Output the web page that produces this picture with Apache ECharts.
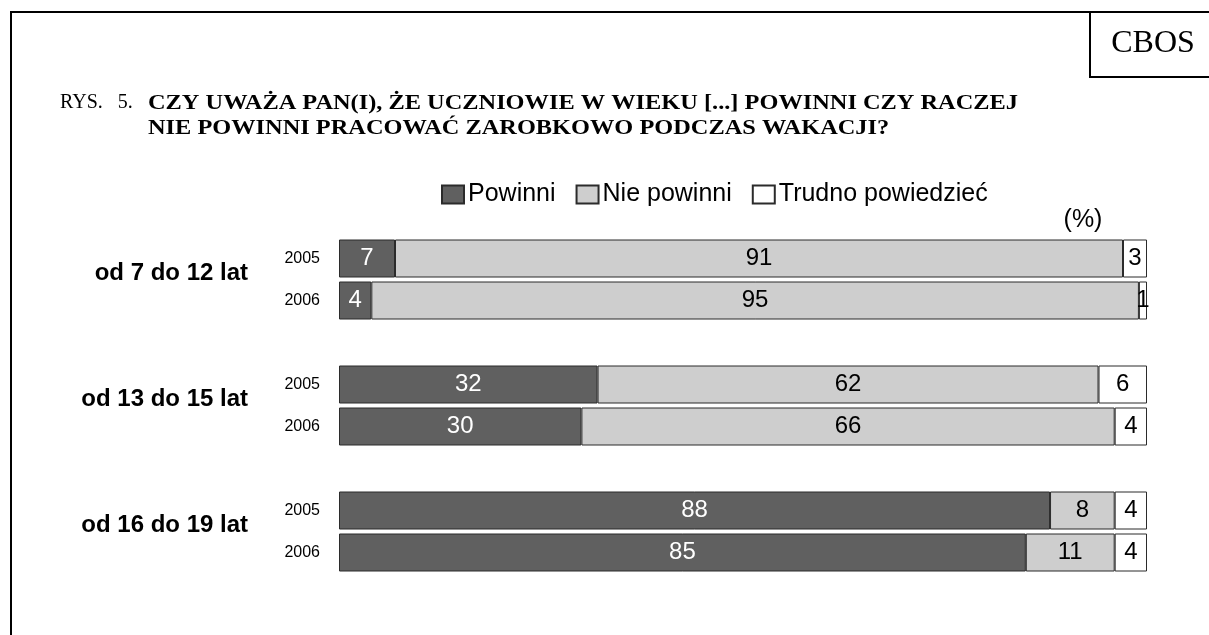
<!DOCTYPE html>
<html>
<head>
<meta charset="utf-8">
<script src="https://cdn.jsdelivr.net/npm/echarts@6/dist/echarts.min.js"></script>
<style>
  html, body { margin: 0; padding: 0; background: #fff; }
  #chart { width: 1209px; height: 635px; }
</style>
</head>
<body>
<div id="chart"></div>
<script>
const groups = ["od 7 do 12 lat", "od 13 do 15 lat", "od 16 do 19 lat"];
const years = ["2005", "2006"];
const seriesNames = ["Powinni", "Nie powinni", "Trudno powiedzieć"];
// one value per row: group 1 (2005, 2006), group 2 (2005, 2006), group 3 (2005, 2006)
const powinni = [7, 4, 32, 30, 88, 85];
const niePowinni = [91, 95, 62, 66, 8, 11];
const trudno = [3, 1, 6, 4, 4, 4];
const titleLines = [
  "CZY UWAŻA PAN(I), ŻE UCZNIOWIE W WIEKU [...] POWINNI CZY RACZEJ",
  "NIE POWINNI PRACOWAĆ ZAROBKOWO PODCZAS WAKACJI?"
];

const serif = '"Liberation Serif", "Times New Roman", serif';
const sans = 'Arial, "Liberation Sans", sans-serif';
const colors = { dark: "#606060", light: "#cecece", blank: "#ffffff", edge: "#2b2b2b" };
const titleSize = 22;
const titleWidth = 870; // width of the first heading line in the report

const chart = echarts.init(document.getElementById("chart"));

// rows of the chart, with an empty row between age groups
const rows = [];
groups.forEach((g, gi) => {
  years.forEach((y, yi) => rows.push({ key: gi + "-" + y, year: y, idx: gi * years.length + yi }));
  if (gi < groups.length - 1) {
    rows.push({ key: "gap" + gi, year: "", idx: -1 });
  }
});

// bars are drawn as shares of the row total, labels keep the printed value
function shares(values) {
  return rows.map((r) => {
    if (r.idx < 0) {
      return "-";
    }
    const total = powinni[r.idx] + niePowinni[r.idx] + trudno[r.idx];
    return { value: values[r.idx] / total * 100, raw: values[r.idx] };
  });
}

function barSeries(name, values, color, textColor) {
  return {
    name,
    type: "bar",
    stack: "all",
    data: shares(values),
    barWidth: 38,
    itemStyle: { color, borderColor: colors.edge, borderWidth: 1 },
    label: {
      show: true,
      position: "inside",
      color: textColor,
      fontFamily: sans,
      fontSize: 24,
      formatter: (p) => (p.data && p.data.raw !== undefined ? String(p.data.raw) : "")
    },
    emphasis: { disabled: true }
  };
}

// the heading font of the report is wider than Liberation Serif Bold
function headingStretch() {
  const ctx = document.createElement("canvas").getContext("2d");
  ctx.font = "bold " + titleSize + "px " + serif;
  return titleWidth / ctx.measureText(titleLines[0]).width;
}

chart.setOption({
  animation: false,
  textStyle: { fontFamily: sans, color: "#000" },
  legend: {
    data: seriesNames,
    left: 441,
    top: 182,
    padding: 0,
    itemWidth: 22,
    itemHeight: 18,
    itemGap: 20,
    icon: "rect",
    selectedMode: false,
    textStyle: { fontFamily: sans, fontSize: 25, color: "#000", padding: [0, 0, 0, -1] }
  },
  grid: { left: 339, right: 62, top: 237.5, bottom: 61.5, outerBoundsMode: "none" },
  xAxis: { type: "value", min: 0, max: 100, show: false },
  yAxis: {
    type: "category",
    inverse: true,
    data: rows.map((r) => r.key),
    axisLine: { show: false },
    axisTick: { show: false },
    splitLine: { show: false },
    axisLabel: {
      margin: 19,
      fontFamily: sans,
      fontSize: 16,
      color: "#000",
      formatter: (v) => {
        const r = rows.find((x) => x.key === v);
        return r ? r.year : "";
      }
    }
  },
  series: [
    barSeries(seriesNames[0], powinni, colors.dark, "#fff"),
    barSeries(seriesNames[1], niePowinni, colors.light, "#000"),
    barSeries(seriesNames[2], trudno, colors.blank, "#000")
  ]
});

// age group labels sit beside their pair of bars
const groupLabels = groups.map((g, gi) => {
  const first = rows.findIndex((r) => r.key === gi + "-" + years[0]);
  const last = rows.findIndex((r) => r.key === gi + "-" + years[years.length - 1]);
  const y1 = chart.convertToPixel({ yAxisIndex: 0 }, first);
  const y2 = chart.convertToPixel({ yAxisIndex: 0 }, last);
  return {
    type: "text",
    x: 248,
    y: (y1 + y2) / 2 - 6,
    style: {
      text: g,
      fontFamily: sans,
      fontWeight: "bold",
      fontSize: 24,
      fill: "#000",
      align: "right",
      verticalAlign: "middle"
    }
  };
});

const stretch = headingStretch();

chart.setOption({
  graphic: [
    {
      type: "rect",
      shape: { x: 11, y: 12, width: 1300, height: 700 },
      style: { fill: null, stroke: "#000", lineWidth: 2 }
    },
    {
      type: "rect",
      shape: { x: 1090, y: 12, width: 200, height: 65 },
      style: { fill: "#fff", stroke: "#000", lineWidth: 2 }
    },
    {
      type: "text",
      x: 1153,
      y: 44,
      style: { text: "CBOS", fontFamily: serif, fontSize: 32, fill: "#000", align: "center", verticalAlign: "middle" }
    },
    {
      type: "text",
      x: 60,
      y: 103,
      style: { text: "RYS.   5.", fontFamily: serif, fontSize: 20, fill: "#000", verticalAlign: "middle" }
    },
    {
      type: "text",
      x: 148,
      y: 103,
      scaleX: stretch,
      style: {
        text: titleLines[0],
        fontFamily: serif,
        fontWeight: "bold",
        fontSize: titleSize,
        fill: "#000",
        verticalAlign: "middle"
      }
    },
    {
      type: "text",
      x: 148,
      y: 128,
      scaleX: stretch,
      style: {
        text: titleLines[1],
        fontFamily: serif,
        fontWeight: "bold",
        fontSize: titleSize,
        fill: "#000",
        verticalAlign: "middle"
      }
    },
    {
      type: "text",
      x: 1083,
      y: 220,
      style: { text: "(%)", fontFamily: sans, fontSize: 25, fill: "#000", align: "center", verticalAlign: "middle" }
    },
    ...groupLabels
  ]
});

window.addEventListener("resize", () => chart.resize());
</script>
</body>
</html>
